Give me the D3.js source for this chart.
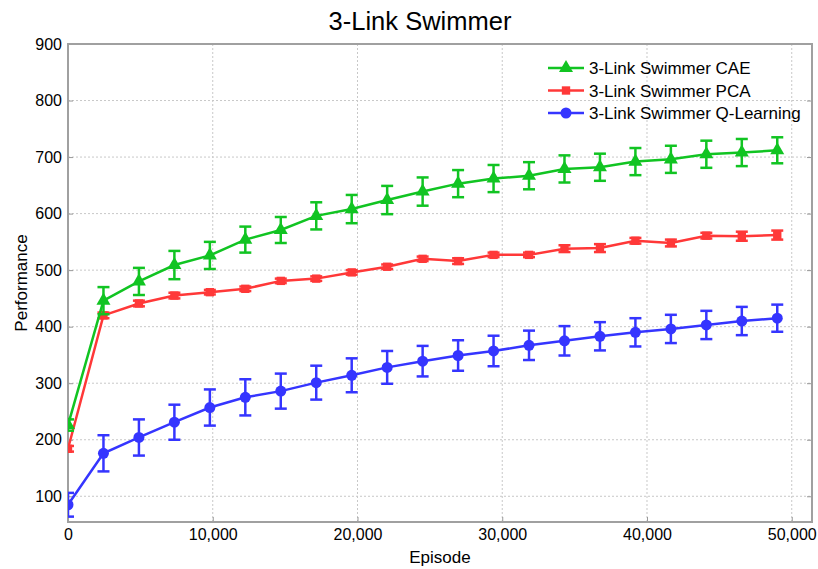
<!DOCTYPE html>
<html>
<head>
<meta charset="utf-8">
<script src="https://cdn.jsdelivr.net/npm/d3@7"></script>
<style>
  body { margin: 0; background: #fff; }
  text { font-family: "Liberation Sans", Arial, sans-serif; }
</style>
</head>
<body>
<script>
// chart data
var episodes = [0, 2450, 4900, 7350, 9800, 12250, 14700, 17150, 19600, 22050, 24500,
                26950, 29400, 31850, 34300, 36750, 39200, 41650, 44100, 46550, 49000];

var caeMean = [226, 446, 480, 509, 526, 554, 571, 596, 608, 624, 639,
               653, 662, 667, 679, 682, 692, 696, 705, 708, 712];
var caeErr  = [10, 24, 24, 25, 24, 23, 23, 24, 25, 25, 25,
               24, 24, 24, 24, 24, 24, 24, 24, 24, 23];

var pcaMean = [184, 420, 441, 455, 461, 467, 481, 485, 496, 506, 520,
               516, 527, 527, 538, 539, 552, 548, 561, 560, 562];
var pcaErr  = [5, 5, 5, 5, 4, 4, 4, 4, 4, 4, 4,
               5, 4, 4, 6, 7, 5, 6, 5, 8, 8];

var qlMean  = [85, 176, 204, 231, 257, 275, 286, 301, 314, 328, 339,
               349, 357, 367, 375, 383, 390, 396, 403, 410, 415];
var qlErr   = [21, 32, 32, 31, 32, 32, 31, 30, 30, 29, 27,
               27, 27, 26, 26, 25, 25, 25, 25, 25, 24];

var seriesNames = ["3-Link Swimmer CAE", "3-Link Swimmer PCA", "3-Link Swimmer Q-Learning"];
var yTicks = [100, 200, 300, 400, 500, 600, 700, 800, 900];
var xTicks = [0, 10000, 20000, 30000, 40000, 50000];

var width = 818, height = 569;
var margin = {left: 68, right: 6, top: 44, bottom: 47};

var svg = d3.select("body").append("svg")
    .attr("width", width)
    .attr("height", height);

var x = d3.scaleLinear().domain([0, 51400]).range([margin.left, width - margin.right]);
var y = d3.scaleLinear().domain([54.5, 900]).range([height - margin.bottom, margin.top]);

var plotL = x.range()[0], plotR = x.range()[1];
var plotT = y.range()[1], plotB = y.range()[0];

// grid
svg.append("g").selectAll("line").data(yTicks.slice(0, -1))
  .enter().append("line")
    .attr("x1", plotL).attr("x2", plotR)
    .attr("y1", d => y(d)).attr("y2", d => y(d))
    .attr("stroke", "#c8c8c8").attr("stroke-dasharray", "2,2");
svg.append("g").selectAll("line").data(xTicks.slice(1))
  .enter().append("line")
    .attr("x1", d => x(d)).attr("x2", d => x(d))
    .attr("y1", plotT).attr("y2", plotB)
    .attr("stroke", "#c8c8c8").attr("stroke-dasharray", "2,2");

// axes (ticks point inward)
var fmt = d3.format(",");
var gx = svg.append("g").attr("transform", "translate(0," + plotB + ")")
  .call(d3.axisBottom(x).tickValues(xTicks).tickFormat(fmt).tickSizeInner(-5).tickSizeOuter(0).tickPadding(7));
var gy = svg.append("g").attr("transform", "translate(" + plotL + ",0)")
  .call(d3.axisLeft(y).tickValues(yTicks).tickSizeInner(-5).tickSizeOuter(0).tickPadding(6));
var gr = svg.append("g").attr("transform", "translate(" + plotR + ",0)")
  .call(d3.axisRight(y).tickValues(yTicks).tickFormat("").tickSizeInner(-5).tickSizeOuter(0));

[gx, gy, gr].forEach(function(g) {
  g.select(".domain").remove();
  g.selectAll(".tick line").attr("stroke", "#999");
  g.selectAll(".tick text").attr("fill", "#000").style("font-size", "16px")
    .style("font-family", "'Liberation Sans', Arial, sans-serif");
});

// frame
svg.append("rect")
    .attr("x", plotL).attr("y", plotT)
    .attr("width", plotR - plotL).attr("height", plotB - plotT)
    .attr("fill", "none").attr("stroke", "#a0a0a0").attr("stroke-width", 2);

// titles
svg.append("text").attr("x", 420).attr("y", 30).attr("text-anchor", "middle")
    .style("font-size", "25.5px").text("3-Link Swimmer");
svg.append("text").attr("x", (plotL + plotR) / 2).attr("y", 563).attr("text-anchor", "middle")
    .style("font-size", "17px").text("Episode");
svg.append("text").attr("transform", "translate(27," + ((plotT + plotB) / 2) + ") rotate(-90)")
    .attr("text-anchor", "middle").style("font-size", "17px").text("Performance");

var series = [
  {name: seriesNames[0], mean: caeMean, err: caeErr, color: "#11c422", symbol: d3.symbolTriangle, size: 85},
  {name: seriesNames[1], mean: pcaMean, err: pcaErr, color: "#ff3838", symbol: d3.symbolSquare, size: 70},
  {name: seriesNames[2], mean: qlMean, err: qlErr, color: "#3535ff", symbol: d3.symbolCircle, size: 95}
];

var line = d3.line().x(d => x(d.ep)).y(d => y(d.v));
var clip = svg.append("clipPath").attr("id", "plotclip").append("rect")
    .attr("x", plotL).attr("y", plotT).attr("width", plotR - plotL).attr("height", plotB - plotT);

series.slice().reverse().forEach(function(s) {
  var pts = episodes.map((ep, i) => ({ep: ep, v: s.mean[i], e: s.err[i]}));
  var g = svg.append("g").attr("clip-path", "url(#plotclip)");
  g.append("path").datum(pts).attr("d", line)
    .attr("fill", "none").attr("stroke", s.color).attr("stroke-width", 2.5);
  var eb = g.selectAll(".eb").data(pts).enter().append("g")
    .attr("stroke", s.color).attr("stroke-width", 2.5);
  eb.append("line").attr("x1", d => x(d.ep)).attr("x2", d => x(d.ep))
    .attr("y1", d => y(d.v - d.e)).attr("y2", d => y(d.v + d.e));
  eb.append("line").attr("x1", d => x(d.ep) - 6).attr("x2", d => x(d.ep) + 6)
    .attr("y1", d => y(d.v + d.e)).attr("y2", d => y(d.v + d.e));
  eb.append("line").attr("x1", d => x(d.ep) - 6).attr("x2", d => x(d.ep) + 6)
    .attr("y1", d => y(d.v - d.e)).attr("y2", d => y(d.v - d.e));
  g.selectAll(".m").data(pts).enter().append("path")
    .attr("transform", d => "translate(" + x(d.ep) + "," + y(d.v) + ")")
    .attr("d", d3.symbol().type(s.symbol).size(s.size))
    .attr("fill", s.color);
});

// legend
var leg = svg.append("g").attr("transform", "translate(548,68)");
series.forEach(function(s, i) {
  var row = leg.append("g").attr("transform", "translate(0," + (i * 22.5) + ")");
  row.append("line").attr("x1", 0).attr("x2", 36).attr("y1", 0).attr("y2", 0)
    .attr("stroke", s.color).attr("stroke-width", 2.5);
  row.append("path").attr("transform", "translate(18,0)")
    .attr("d", d3.symbol().type(s.symbol).size(s.size)).attr("fill", s.color);
  row.append("text").attr("x", 41).attr("y", 6).style("font-size", "17px").text(s.name);
});
</script>
</body>
</html>
